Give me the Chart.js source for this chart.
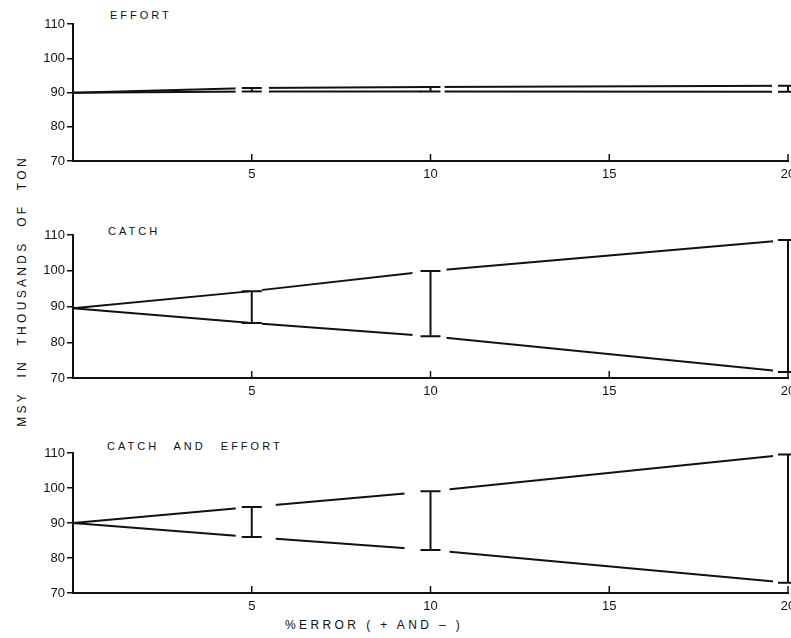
<!DOCTYPE html>
<html lang="en">
<head>
<meta charset="UTF-8">
<title>MSY vs % error</title>
<script src="https://cdn.jsdelivr.net/npm/chart.js"></script>
<style>
  body { margin: 0; background: #fff; width: 791px; height: 638px; position: relative; overflow: hidden; font-family: "Liberation Sans", Arial, sans-serif; color: #111; }
  canvas { position: absolute; left: 0; }
  .ptitle { position: absolute; font-size: 11px; letter-spacing: 3px; word-spacing: 9px; white-space: pre; }
  #ytitle { position: absolute; left: 22px; top: 291px; transform: translate(-50%, -50%) rotate(-90deg); font-size: 12px; letter-spacing: 3.3px; word-spacing: 7px; white-space: nowrap; }
  #xtitle { position: absolute; left: 285px; top: 618px; font-size: 12px; letter-spacing: 3.4px; white-space: pre; }
</style>
</head>
<body>
<div id="ytitle">MSY IN THOUSANDS OF TON</div>
<div class="ptitle" style="left:110px;top:9px">EFFORT</div>
<div class="ptitle" style="left:108px;top:225px">CATCH</div>
<div class="ptitle" style="left:107px;top:440px">CATCH AND EFFORT</div>
<div id="xtitle">%ERROR ( + AND – )</div>

<canvas id="p1" width="791" height="200" style="top:0px"></canvas>
<canvas id="p2" width="791" height="210" style="top:200px"></canvas>
<canvas id="p3" width="791" height="218" style="top:410px"></canvas>

<script>
    // % error (x) and MSY in thousands of tons (y)
    const xs = [0, 5, 10, 20];
    const barsAt = [5, 10, 20];          // where the error bars are drawn
    const xTicks = [5, 10, 15, 20];
    const yTicks = [70, 80, 90, 100, 110];

    const effortHigh = [89.9, 91.3, 91.6, 92.0];
    const effortLow  = [89.9, 90.3, 90.3, 90.2];
    const catchHigh  = [89.5, 94.3, 99.9, 108.6];
    const catchLow   = [89.5, 85.4, 81.7, 71.7];
    const bothHigh   = [90.0, 94.6, 99.1, 109.6];
    const bothLow    = [90.0, 86.0, 82.3, 72.9];

    const ink = '#111';

    // error bars with the little gaps the lines leave around them
    const errorBars = {
        id: 'errorBars',
        afterDatasetsDraw(chart, args, opts) {
            const ctx = chart.ctx;
            const sx = chart.scales.x, sy = chart.scales.y;
            const hi = chart.data.datasets[0].data;
            const lo = chart.data.datasets[1].data;
            ctx.save();
            barsAt.forEach((b, i) => {
                const k = xs.indexOf(b);
                const px = sx.getPixelForValue(b);
                const yt = sy.getPixelForValue(hi[k].y);
                const yb = sy.getPixelForValue(lo[k].y);
                const g = opts.gaps[i];
                ctx.fillStyle = '#fff';
                ctx.fillRect(px - g[0], yt - 4, g[0] + g[1], 8);
                ctx.fillRect(px - g[0], yb - 4, g[0] + g[1], 8);
                ctx.strokeStyle = ink;
                ctx.lineWidth = 2;
                ctx.beginPath();
                ctx.moveTo(px, yt); ctx.lineTo(px, yb);
                ctx.moveTo(px - opts.cap, yt); ctx.lineTo(px + opts.cap, yt);
                ctx.moveTo(px - opts.cap, yb); ctx.lineTo(px + opts.cap, yb);
                ctx.stroke();
            });
            // small tick marks pointing up from the x axis
            ctx.lineWidth = 1.5;
            ctx.beginPath();
            xTicks.forEach(t => {
                const px = sx.getPixelForValue(t);
                ctx.moveTo(px, chart.chartArea.bottom);
                ctx.lineTo(px, chart.chartArea.bottom - 7);
            });
            ctx.stroke();
            ctx.restore();
        }
    };

    function panel(id, hi, lo, padTop, xHeight, gaps) {
        const pts = arr => xs.map((x, i) => ({x: x, y: arr[i]}));
        const line = arr => ({
            data: pts(arr), borderColor: ink, borderWidth: 2,
            pointRadius: 0, tension: 0, fill: false
        });
        return new Chart(document.getElementById(id), {
            type: 'line',
            data: { datasets: [line(hi), line(lo)] },
            options: {
                responsive: false,
                animation: false,
                devicePixelRatio: 1,
                layout: { autoPadding: false, padding: { top: padTop, right: 3, left: 0, bottom: 0 } },
                plugins: {
                    legend: { display: false },
                    tooltip: { enabled: false },
                    errorBars: { gaps: gaps, cap: 10 }
                },
                scales: {
                    x: {
                        type: 'linear', min: 0, max: 20,
                        // let the "20" label hang off the edge like the original
                        afterFit: s => { s.height = xHeight; s.paddingRight = 0; s.paddingLeft = 0; },
                        afterBuildTicks: s => { s.ticks = [0].concat(xTicks).map(v => ({value: v})); },
                        ticks: {
                            callback: v => v === 0 ? '' : v,
                            color: ink, padding: 6, maxRotation: 0,
                            font: { family: 'Liberation Sans', size: 13 }
                        },
                        grid: { drawOnChartArea: false, drawTicks: false },
                        border: { color: ink, width: 2 }
                    },
                    y: {
                        min: 70, max: 110,
                        afterFit: s => { s.width = 73; },
                        afterBuildTicks: s => { s.ticks = yTicks.map(v => ({value: v})); },
                        ticks: { color: ink, padding: 2, font: { family: 'Liberation Sans', size: 13 } },
                        grid: { drawOnChartArea: false, tickLength: 6, color: ink, lineWidth: 1.5 },
                        border: { color: ink, width: 2 }
                    }
                }
            },
            plugins: [errorBars]
        });
    }

    panel('p1', effortHigh, effortLow, 24, 39, [[16, 17], [9, 14], [16, 0]]);
    panel('p2', catchHigh, catchLow, 35, 32, [[3, 10], [18, 16], [15, 0]]);
    panel('p3', bothHigh, bothLow, 43, 35, [[16, 24], [26, 19], [15, 0]]);
</script>
</body>
</html>
